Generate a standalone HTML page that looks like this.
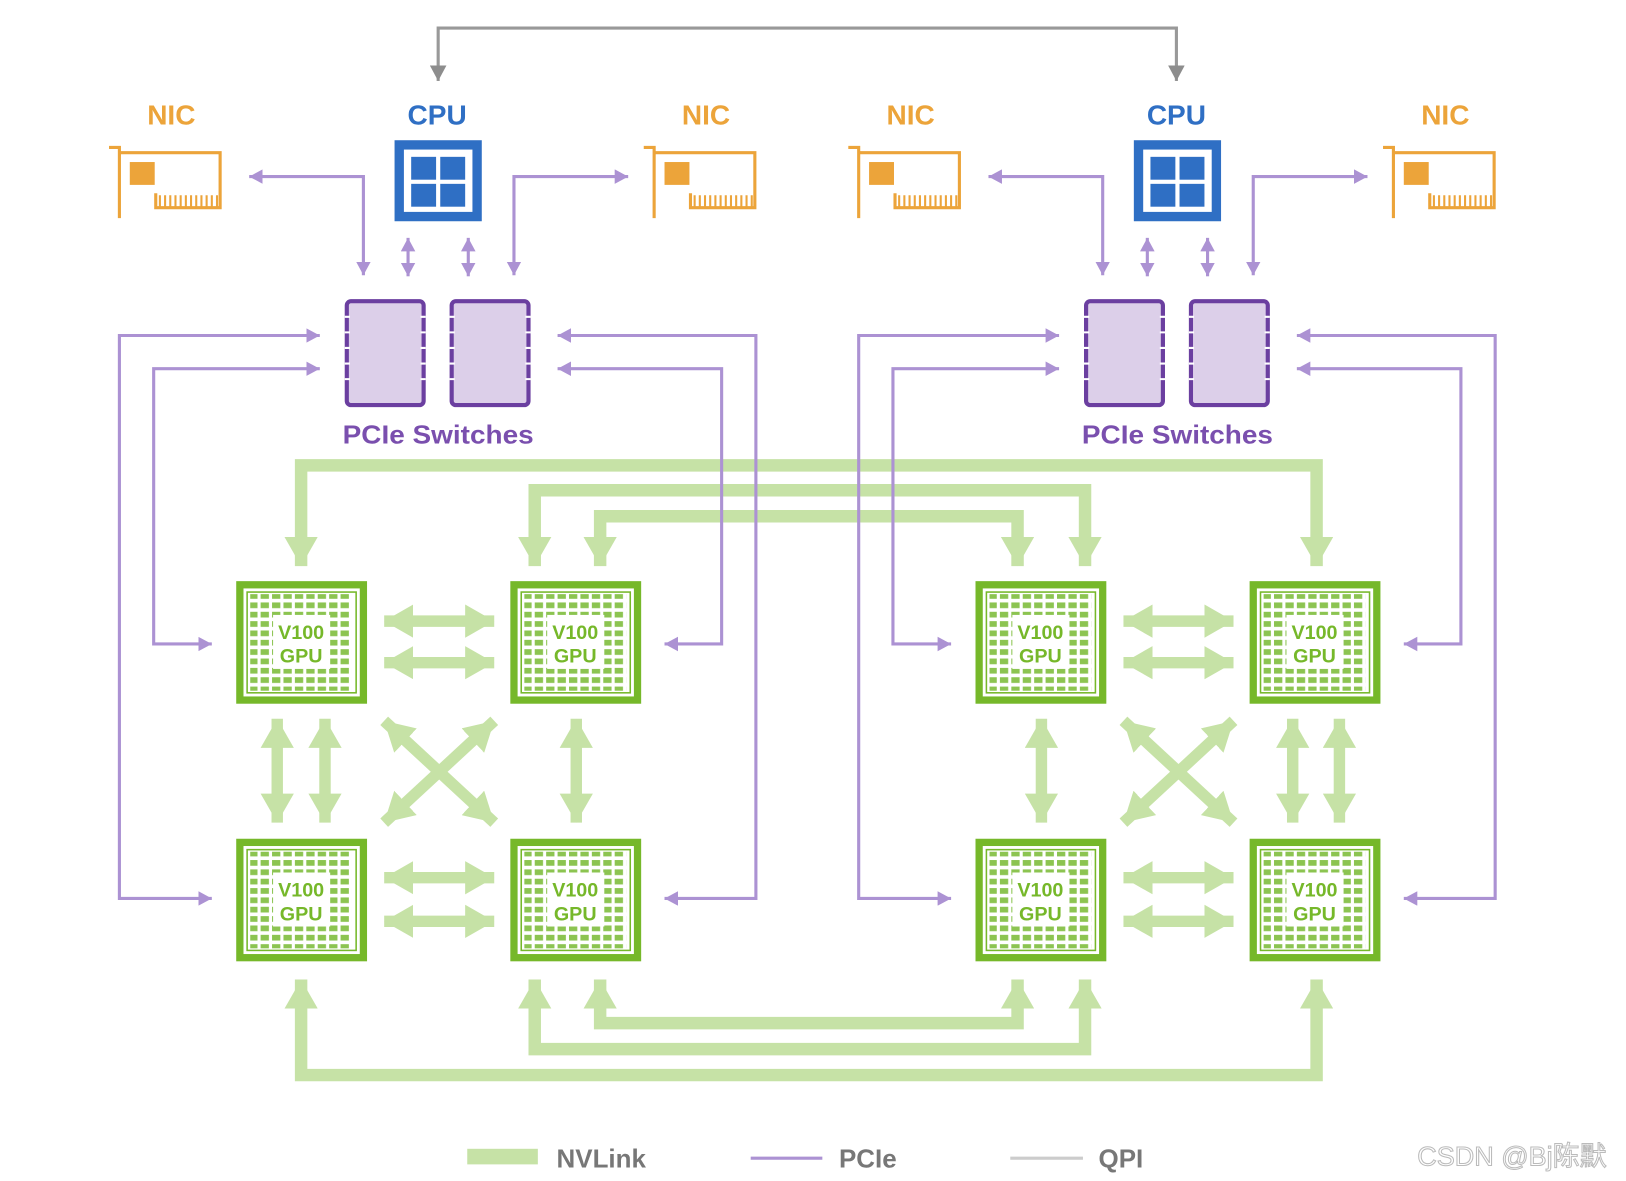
<!DOCTYPE html>
<html><head><meta charset="utf-8"><style>
html,body{margin:0;padding:0;background:#fff;}
svg{display:block;}
text{font-family:"Liberation Sans",sans-serif;font-weight:bold;}
</style></head><body>
<svg width="1626" height="1181" viewBox="0 0 1566 1137" preserveAspectRatio="none" xmlns="http://www.w3.org/2000/svg">
<defs>
<marker id="nv" markerUnits="userSpaceOnUse" markerWidth="30" markerHeight="32" refX="28" refY="16" orient="auto-start-reverse"><path d="M0,0 L28,16 L0,32 z" fill="#c6e2a6"/></marker>
<marker id="pc" markerUnits="userSpaceOnUse" markerWidth="14" markerHeight="14" refX="13" refY="7" orient="auto-start-reverse"><path d="M0,0 L13,7 L0,14 z" fill="#ac92d3"/></marker>
<marker id="qp" markerUnits="userSpaceOnUse" markerWidth="16" markerHeight="16" refX="15" refY="8" orient="auto-start-reverse"><path d="M0,0 L15,8 L0,16 z" fill="#8d8d8d"/></marker>
<pattern id="dots" width="11" height="9" patternUnits="userSpaceOnUse" x="240" y="571"><rect x="0" y="0" width="8" height="5.5" fill="#8cc451"/></pattern>
<g id="gpu">
<rect x="231" y="563" width="119" height="111" fill="#fff" stroke="#76b82a" stroke-width="7"/>
<rect x="238" y="570" width="105" height="97" fill="none" stroke="#76b82a" stroke-width="1.5"/>
<rect x="241" y="572" width="98" height="93" fill="url(#dots)"/>
<rect x="263" y="592" width="55" height="52" fill="#fff"/>
</g>
<g id="nic">
<path d="M105,142 H115 V210" fill="none" stroke="#eca43a" stroke-width="3"/>
<path d="M115,147 H212 V200 H150 V186" fill="none" stroke="#eca43a" stroke-width="3"/>
<rect x="125" y="156" width="24" height="22" fill="#eca43a"/>
<g stroke="#eca43a" stroke-width="2">
<path d="M154,188 V199 M159,188 V199 M164,188 V199 M169,188 V199 M174,188 V199 M179,188 V199 M184,188 V199 M189,188 V199 M194,188 V199 M199,188 V199 M204,188 V199 M209,188 V199"/>
</g>
</g>
<g id="sw">
<rect x="334" y="290" width="74" height="100" rx="4" fill="#dccfe9" stroke="#6b3fa0" stroke-width="4"/>
<g stroke="#fff" stroke-width="2">
<path d="M332,305 h5 M332,320 h5 M332,335 h5 M332,350 h5 M332,365 h5 M405,305 h5 M405,320 h5 M405,335 h5 M405,350 h5 M405,365 h5"/>
</g>
</g>
</defs>

<path d="M422,78 V27 H1133 V78" fill="none" stroke="#999" stroke-width="3" marker-start="url(#qp)" marker-end="url(#qp)"/>

<g fill="none" stroke="#c6e2a6" stroke-width="12" marker-start="url(#nv)" marker-end="url(#nv)">
<path d="M290,545 V448 H1268 V545"/>
<path d="M515,545 V472 H1045 V545"/>
<path d="M578,545 V497 H980 V545"/>
<path d="M290,943 V1035 H1268 V943"/>
<path d="M515,943 V1010 H1045 V943"/>
<path d="M578,943 V985 H980 V943"/>
</g>

<g id="half">
<text x="165" y="120" font-size="27" fill="#eca43a" text-anchor="middle">NIC</text>
<text x="421" y="120" font-size="27" fill="#2f6fc4" text-anchor="middle">CPU</text>
<text x="680" y="120" font-size="27" fill="#eca43a" text-anchor="middle">NIC</text>
<use href="#nic"/>
<use href="#nic" transform="translate(515,0)"/>
<rect x="380" y="135" width="84" height="78" fill="#2f6fc4"/>
<rect x="389" y="144" width="66" height="60" fill="#fff"/>
<rect x="396" y="151" width="24" height="22" fill="#2f6fc4"/>
<rect x="424" y="151" width="24" height="22" fill="#2f6fc4"/>
<rect x="396" y="177" width="24" height="22" fill="#2f6fc4"/>
<rect x="424" y="177" width="24" height="22" fill="#2f6fc4"/>
<g fill="none" stroke="#ac92d3" stroke-width="3" marker-start="url(#pc)" marker-end="url(#pc)">
<path d="M240,170 H350 V265"/>
<path d="M605,170 H495 V265"/>
<path d="M393,229 V266"/>
<path d="M451,229 V266"/>
<path d="M308,323 H115 V865 H204"/>
<path d="M308,355 H148 V620 H204"/>
<path d="M537,323 H728 V865 H640"/>
<path d="M537,355 H695 V620 H640"/>
</g>
<use href="#sw"/>
<use href="#sw" transform="translate(101,0)"/>
<text x="422" y="427" font-size="25" fill="#7a4fae" text-anchor="middle" textLength="184" lengthAdjust="spacingAndGlyphs">PCIe Switches</text>
<use href="#gpu"/>
<use href="#gpu" transform="translate(264,0)"/>
<use href="#gpu" transform="translate(0,248)"/>
<use href="#gpu" transform="translate(264,248)"/>
<g font-size="19" fill="#76b82a" text-anchor="middle">
<text x="290" y="615">V100</text><text x="290" y="638">GPU</text>
<text x="554" y="615">V100</text><text x="554" y="638">GPU</text>
<text x="290" y="863">V100</text><text x="290" y="886">GPU</text>
<text x="554" y="863">V100</text><text x="554" y="886">GPU</text>
</g>
<g fill="none" stroke="#c6e2a6" stroke-width="11" marker-start="url(#nv)" marker-end="url(#nv)">
<path d="M370,598 H476"/>
<path d="M370,638 H476"/>
<path d="M370,845 H476"/>
<path d="M370,887 H476"/>
<path d="M370,694 L476,792"/>
<path d="M476,694 L370,792"/>
</g>
</g>
<use href="#half" transform="translate(712,0)"/>

<g fill="none" stroke="#c6e2a6" stroke-width="11" marker-start="url(#nv)" marker-end="url(#nv)">
<path d="M267,692 V792"/>
<path d="M313,692 V792"/>
<path d="M555,692 V792"/>
<path d="M1003,692 V792"/>
<path d="M1245,692 V792"/>
<path d="M1290,692 V792"/>
</g>

<rect x="450" y="1106" width="68" height="15" fill="#c6e2a6"/>
<text x="536" y="1124" font-size="25" fill="#777">NVLink</text>
<line x1="723" y1="1115" x2="792" y2="1115" stroke="#ac92d3" stroke-width="3"/>
<text x="808" y="1124" font-size="25" fill="#777">PCIe</text>
<line x1="973" y1="1115" x2="1043" y2="1115" stroke="#ccc" stroke-width="3"/>
<text x="1058" y="1124" font-size="25" fill="#777">QPI</text>
<text x="1365" y="1122" font-size="26" fill="#fff" stroke="#bbb" stroke-width="1" style="font-family:'Liberation Sans','Noto Sans CJK SC',sans-serif;font-weight:normal">CSDN @Bj陈默</text>
</svg>
</body></html>
